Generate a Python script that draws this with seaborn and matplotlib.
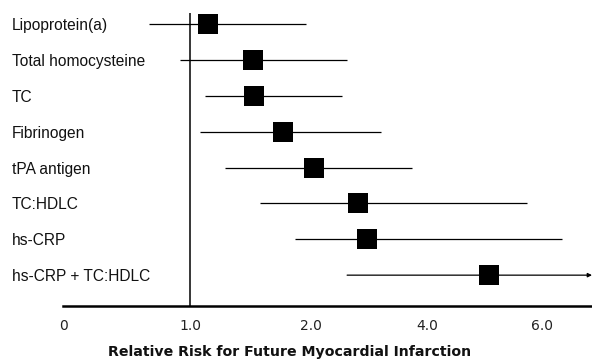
import numpy as np
import pandas as pd
import matplotlib
matplotlib.use("Agg")
import matplotlib.pyplot as plt
import seaborn as sns

# =========================
# DATA (relative risk, 95% CI)
# =========================
markers = [
    "Lipoprotein(a)",
    "Total homocysteine",
    "TC",
    "Fibrinogen",
    "tPA antigen",
    "TC:HDLC",
    "hs-CRP",
    "hs-CRP + TC:HDLC",
]
rr = [1.15, 1.52, 1.53, 1.77, 2.05, 2.81, 2.97, 5.08]
ci_low = [0.68, 0.92, 1.12, 1.08, 1.29, 1.58, 1.87, 2.62]
ci_high = [1.96, 2.62, 2.53, 3.21, 3.74, 5.74, 6.35, 6.87]

tick_values = [0, 1, 2, 4, 6]
tick_labels = ["0", "1.0", "2.0", "4.0", "6.0"]

# =========================
# GLOBAL SETTINGS
# =========================
sns.set_theme(style="white")
plt.rcParams["font.family"] = ["DejaVu Sans"]

# Non-uniform axis: labelled ticks sit roughly evenly spaced
tick_pos = [0, 1.058, 2.067, 3.033, 3.99]
slope_end = (tick_pos[4] - tick_pos[3]) / (tick_values[4] - tick_values[3])
scale_vals = [-100] + tick_values + [100]
scale_pos = [-100 * tick_pos[1]] + tick_pos + [tick_pos[4] + (100 - 6) * slope_end]


def forward(v):
    return np.interp(v, scale_vals, scale_pos)


def inverse(p):
    return np.interp(p, scale_pos, scale_vals)


df = pd.DataFrame({
    "marker": markers,
    "row": np.arange(len(markers)),
    "rr": rr,
    "low": ci_low,
    "high": ci_high,
})

fig = plt.figure(figsize=(5.92, 3.64), dpi=100)
ax = fig.add_axes([63 / 592, 58 / 364, 529 / 592, 293 / 364])
ax.set_xscale("function", functions=(forward, inverse))

# confidence intervals
last = len(df) - 1
ax.hlines(df["row"][:last], df["low"][:last], df["high"][:last],
          color="black", linewidth=0.9, zorder=1)
ax.annotate("", xy=(df["high"][last], df["row"][last]),
            xytext=(df["low"][last], df["row"][last]),
            arrowprops=dict(arrowstyle="-|>", color="black", lw=0.9,
                            mutation_scale=6, shrinkA=0, shrinkB=0),
            annotation_clip=False, zorder=1)

# point estimates
sns.scatterplot(data=df, x="rr", y="row", marker="s", s=190,
                color="black", edgecolor="black", linewidth=0,
                legend=False, ax=ax, zorder=3)

# reference line at RR = 1
ax.axvline(1.0, color="black", linewidth=1.1, zorder=0)

ax.set_xlim(0, 6.87)
ax.set_ylim(7.86, -0.31)

ax.set_xticks(tick_values)
ax.set_xticklabels(tick_labels, fontsize=10, color="#222222")
ax.tick_params(axis="x", length=0, pad=9)

ax.set_yticks(df["row"])
ax.set_yticklabels(df["marker"], fontsize=11.2, family="Liberation Sans",
                   color="#111111")
ax.tick_params(axis="y", length=0, pad=36.7)
for lab in ax.get_yticklabels():
    lab.set_horizontalalignment("left")

ax.set_xlabel("")
ax.set_ylabel("")
for side in ["top", "right", "left"]:
    ax.spines[side].set_visible(False)
ax.spines["bottom"].set_linewidth(1.8)
ax.spines["bottom"].set_color("black")

fig.text(290 / 592, 1 - 352 / 364,
         "Relative Risk for Future Myocardial Infarction",
         ha="center", va="center", fontsize=10.2, fontweight="bold",
         color="#111111")

fig.savefig("out.png", dpi=100)
plt.close(fig)
